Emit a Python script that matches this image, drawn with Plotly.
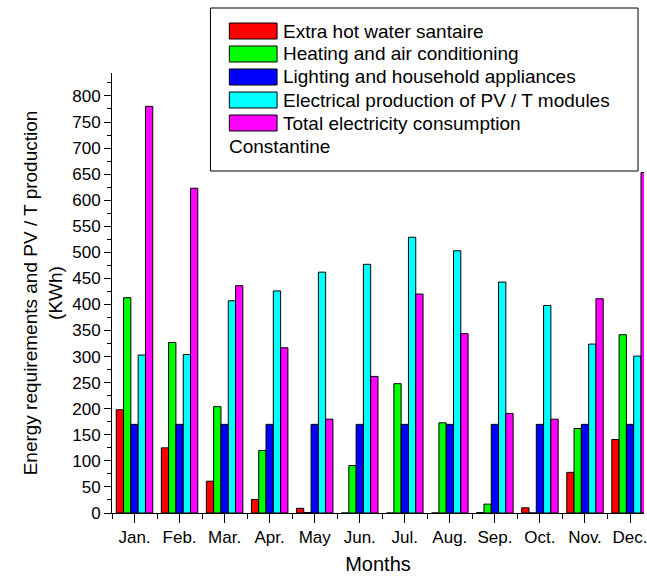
import plotly.graph_objects as go

months = ["Jan.", "Feb.", "Mar.", "Apr.", "May", "Jun.", "Jul.", "Aug.", "Sep.", "Oct.", "Nov.", "Dec."]
series_names = [
    "Extra hot water santaire",
    "Heating and air conditioning",
    "Lighting and household appliances",
    "Electrical production of PV / T modules",
    "Total electricity consumption",
]
legend_note = "Constantine"
hot_water = [198, 125, 61, 26, 9, 0, 0, 0, 1, 10, 78, 141]
heating_ac = [413, 327, 204, 120, 1, 91, 248, 173, 17, 0, 162, 342]
lighting = [170, 170, 170, 170, 170, 170, 170, 170, 170, 170, 170, 170]
pvt_production = [303, 304, 407, 426, 462, 477, 529, 503, 443, 398, 324, 301]
total_consumption = [780, 623, 436, 317, 180, 262, 420, 344, 191, 180, 411, 653]
colors = ["#FF0000", "#00FF00", "#0000FF", "#00FFFF", "#FF00FF"]

W, H = 647, 578
ML, MR, MT, MB = 112, 0, 73, 65
FONT = "Arial, Liberation Sans, sans-serif"

x_idx = list(range(len(months)))
fig = go.Figure()
for name, vals, col in zip(series_names,
                           [hot_water, heating_ac, lighting, pvt_production, total_consumption],
                           colors):
    fig.add_trace(go.Bar(x=x_idx, y=vals, name=name,
                         marker=dict(color=col, line=dict(color="black", width=1))))

# helpers to position custom legend in pixels
pw = W - ML - MR
ph = H - MT - MB
def px(xp):
    return (xp - ML) / pw
def py(yp):
    return (H - MB - yp) / ph

shapes = [dict(type="rect", xref="paper", yref="paper",
               x0=px(211), x1=px(641), y0=py(171), y1=py(8),
               line=dict(color="black", width=1), fillcolor="white", layer="above")]
annotations = []
row0, step = 31, 23
for i, (name, col) in enumerate(zip(series_names, colors)):
    cy = row0 + i * step
    shapes.append(dict(type="rect", xref="paper", yref="paper",
                       x0=px(230), x1=px(278), y0=py(cy + 8), y1=py(cy - 8),
                       line=dict(color="black", width=1), fillcolor=col, layer="above"))
    annotations.append(dict(xref="paper", yref="paper", x=px(282), y=py(cy),
                            text=name, showarrow=False, xanchor="left", yanchor="middle",
                            font=dict(family=FONT, size=19, color="black")))
annotations.append(dict(xref="paper", yref="paper", x=px(228), y=py(row0 + 5 * step),
                        text=legend_note, showarrow=False, xanchor="left", yanchor="middle",
                        font=dict(family=FONT, size=19, color="black")))

fig.update_layout(
    width=W, height=H,
    margin=dict(l=ML, r=MR, t=MT, b=MB, pad=0),
    paper_bgcolor="white", plot_bgcolor="white",
    barmode="group", bargap=0.19, bargroupgap=0,
    showlegend=False,
    font=dict(family=FONT, color="black"),
    shapes=shapes, annotations=annotations,
    xaxis=dict(
        range=[-0.5, 11.31], tickmode="array", tickvals=x_idx, ticktext=months,
        ticks="outside", ticklen=9, tickwidth=1, tickcolor="black",
        ticklabeloverflow="allow",
        minor=dict(tickmode="linear", tick0=0.5, dtick=1, ticks="outside", ticklen=5,
                   tickcolor="black", tickwidth=1),
        showline=True, linecolor="black", linewidth=1, showgrid=False, zeroline=False,
        tickfont=dict(family=FONT, size=17, color="black"),
        title=dict(text="Months", font=dict(family=FONT, size=20, color="black"), standoff=10),
    ),
    yaxis=dict(
        range=[0, 844], dtick=50, tick0=0,
        ticks="outside", ticklen=7, tickwidth=1, tickcolor="black",
        minor=dict(dtick=25, ticks="outside", ticklen=4, tickcolor="black", tickwidth=1),
        showline=True, linecolor="black", linewidth=1, showgrid=False, zeroline=False,
        tickfont=dict(family=FONT, size=17, color="black"),
        title=dict(text="Energy requirements and PV / T production<br>(KWh)",
                   font=dict(family=FONT, size=19, color="black"), standoff=4),
    ),
)

fig.write_html("out.html")
